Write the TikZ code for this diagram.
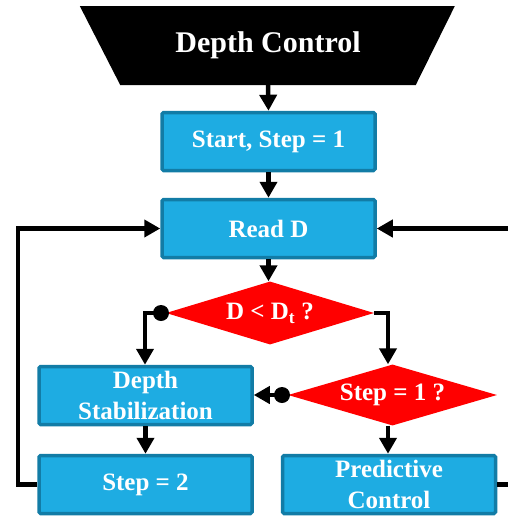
\documentclass[tikz,border=0pt]{standalone}
\usepackage{fontspec}
\setmainfont{Liberation Serif}
\usetikzlibrary{arrows.meta,shapes.geometric}
\definecolor{boxfill}{RGB}{30,172,226}
\definecolor{boxline}{RGB}{18,124,166}
\definecolor{decred}{RGB}{255,0,0}
\tikzset{
  procbox/.style={draw=boxline, fill=boxfill, line width=3.5pt, rounded corners=1.5pt,
    minimum width=213pt, minimum height=58pt, inner sep=0pt, align=center,
    text=white, font=\fontsize{25}{31}\selectfont\bfseries},
  decision/.style={diamond, fill=decred, inner sep=0pt, text=white,
    font=\fontsize{25}{28}\selectfont\bfseries},
  conn/.style={line width=4.5pt, -{Triangle[width=17pt,length=16pt]}},
  plain/.style={line width=4.5pt},
  dotc/.style={circle, fill=black, minimum size=16pt, inner sep=0pt},
}
\begin{document}
\begin{tikzpicture}[x=1pt,y=-1pt]
\useasboundingbox (0,0) rectangle (508,517);
\clip (0,0) rectangle (508,517);
% title trapezoid
\node[trapezium, trapezium stretches=true, shape border rotate=180,
  trapezium left angle=48, trapezium right angle=47,
  minimum width=376pt, minimum height=79pt, fill=black, inner sep=0pt,
  text=white, font=\fontsize{30}{32}\selectfont\bfseries] (dc) at (268,45.5) {Depth Control};
% boxes
\node[procbox] (start) at (268.5,141.5) {Start, Step = 1};
\node[procbox] (read) at (268.5,228.5) {Read D};
\node[decision, aspect=3.3, minimum width=208pt, minimum height=63pt] (d1) at (270,313) {D {<} D\textsubscript{t} ?};
\node[decision, aspect=3.4, minimum width=209pt, minimum height=61pt] (d2) at (392.5,395) {Step = 1 ?};
\node[procbox] (ds) at (145.5,395.5) {Depth\\Stabilization};
\node[procbox] (s2) at (145.5,484.5) {Step = 2};
\node[procbox] (pc) at (389,484.5) {Predictive\\Control};
% dots
\node[dotc] (dot1) at (161,313) {};
\node[dotc] (dot2) at (282,395) {};
% helper coordinates
\coordinate (l1) at (145,313);
\coordinate (r1) at (388,313);
\coordinate (lx) at (18,484.5);
\coordinate (rx) at (520,484.5);
% connectors
\draw[conn] (dc.south) -- (start.north);
\draw[conn] (start.south) -- (read.north);
\draw[conn] (read.south) -- (d1.north -| read.south);
\draw[plain] (d1.west) -- (dot1.center);
\draw[conn] (dot1.center) -| (ds.north -| l1);
\draw[conn] (d1.east) -| (d2.north -| r1);
\draw[conn] (dot2.center) -- (ds.east |- dot2);
\draw[plain] (d2.west) -- (dot2.center);
\draw[conn] (ds.south) -- (s2.north);
\draw[conn] (d2.south -| r1) -- (pc.north -| r1);
\draw[conn] (s2.west) -- (lx) |- (read.west);
\draw[conn] (pc.east) -- (rx) |- (read.east);
\end{tikzpicture}
\end{document}
